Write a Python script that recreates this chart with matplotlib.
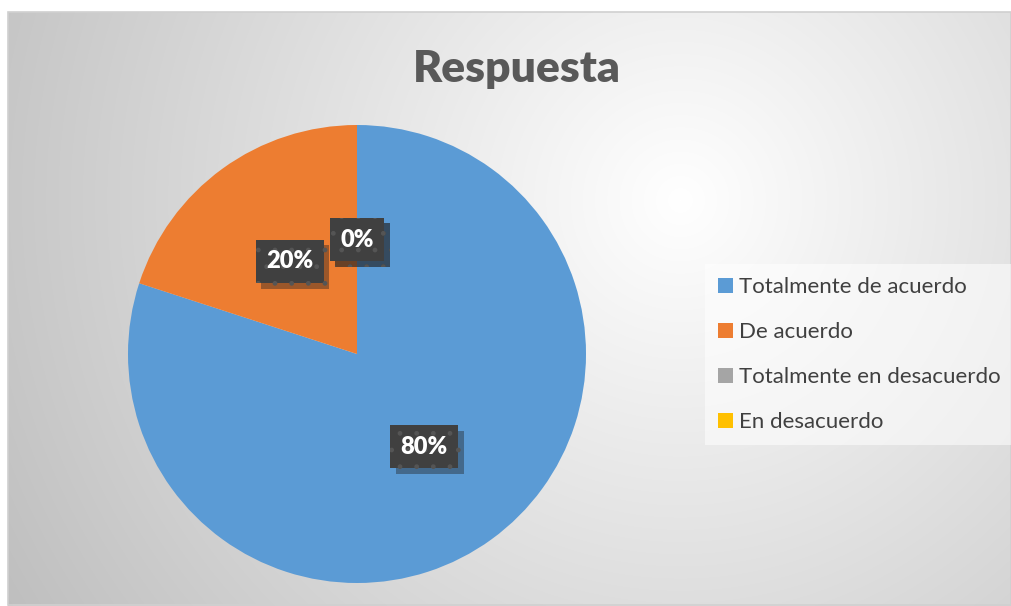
import numpy as np
import matplotlib
matplotlib.use("Agg")
import matplotlib.pyplot as plt
import matplotlib.patheffects as pe
from matplotlib.patches import Rectangle

# Data
title = "Respuesta"
categories = ["Totalmente de acuerdo", "De acuerdo", "Totalmente en desacuerdo", "En desacuerdo"]
values = [80, 20, 0, 0]
colors = ["#5B9BD5", "#ED7D31", "#A5A5A5", "#FFC000"]

plt.rcParams['hatch.linewidth'] = 1.0

W, H = 1012, 606
fig = plt.figure(figsize=(W / 100, H / 100), dpi=100)
fig.patch.set_facecolor("white")

# Background gradient for the chart area
bg = fig.add_axes([0, 0, 1, 1], zorder=0)
x0, y0 = 8, 12
xs = np.arange(W)
ys = np.arange(H)
X, Y = np.meshgrid(xs, ys)
d = np.sqrt((X - 680) ** 2 + (Y - 200) ** 2)
v = np.clip(255 - 0.082 * d, 185, 255) / 255.0
img = np.dstack([v, v, v])
mask = (X < x0) | (Y < y0)
img[mask] = 1.0
bg.imshow(img, extent=[0, W, H, 0], aspect="auto", interpolation="bilinear")
bg.add_patch(Rectangle((x0, y0), W - x0 - 1, H - y0 - 1, fill=False, edgecolor="#d0d0d0", lw=1.2))
bg.set_xlim(0, W)
bg.set_ylim(H, 0)
bg.axis("off")

# Title
fig.text(517 / W, 1 - 69 / H, title, ha="center", va="center", fontsize=32,
         fontweight="heavy", color="#595959", family="Lato")

# Pie
cx, cy, R = 357, 354, 229
ax = fig.add_axes([(cx - R) / W, (H - cy - R) / H, 2 * R / W, 2 * R / H], zorder=2)
wedges, texts, autotexts = ax.pie(values, colors=colors, startangle=90, counterclock=False,
                                  autopct=lambda p: f"{p:.0f}%", pctdistance=0.5,
                                  wedgeprops=dict(linewidth=0))
ax.set_xlim(-1, 1)
ax.set_ylim(-1, 1)
for t in autotexts:
    t.set_color("white")
    t.set_fontsize(17)
    t.set_fontweight("heavy")
    t.set_family("Lato")
    t.set_bbox(dict(boxstyle="square,pad=0.45", facecolor="#404040",
                    edgecolor="#555555", hatch=".", linewidth=0))
    t.get_bbox_patch().set_path_effects([pe.SimplePatchShadow(offset=(4, -4), alpha=0.4, shadow_rgbFace="#202020"), pe.Normal()])
ax.set_aspect("equal")
ax.axis("off")

# Legend
leg = fig.legend(wedges, categories, loc="upper left",
                 bbox_to_anchor=(705 / W, 1 - 264 / H),
                 frameon=True, fancybox=False, framealpha=0.55, edgecolor="none",
                 facecolor="white", prop=dict(family="Lato", size=16),
                 handlelength=0.65, handleheight=0.65, handletextpad=0.3,
                 labelspacing=1.12, borderpad=0.6, borderaxespad=0)
for t in leg.get_texts():
    t.set_color("#404040")

fig.savefig("out.png", dpi=100)
